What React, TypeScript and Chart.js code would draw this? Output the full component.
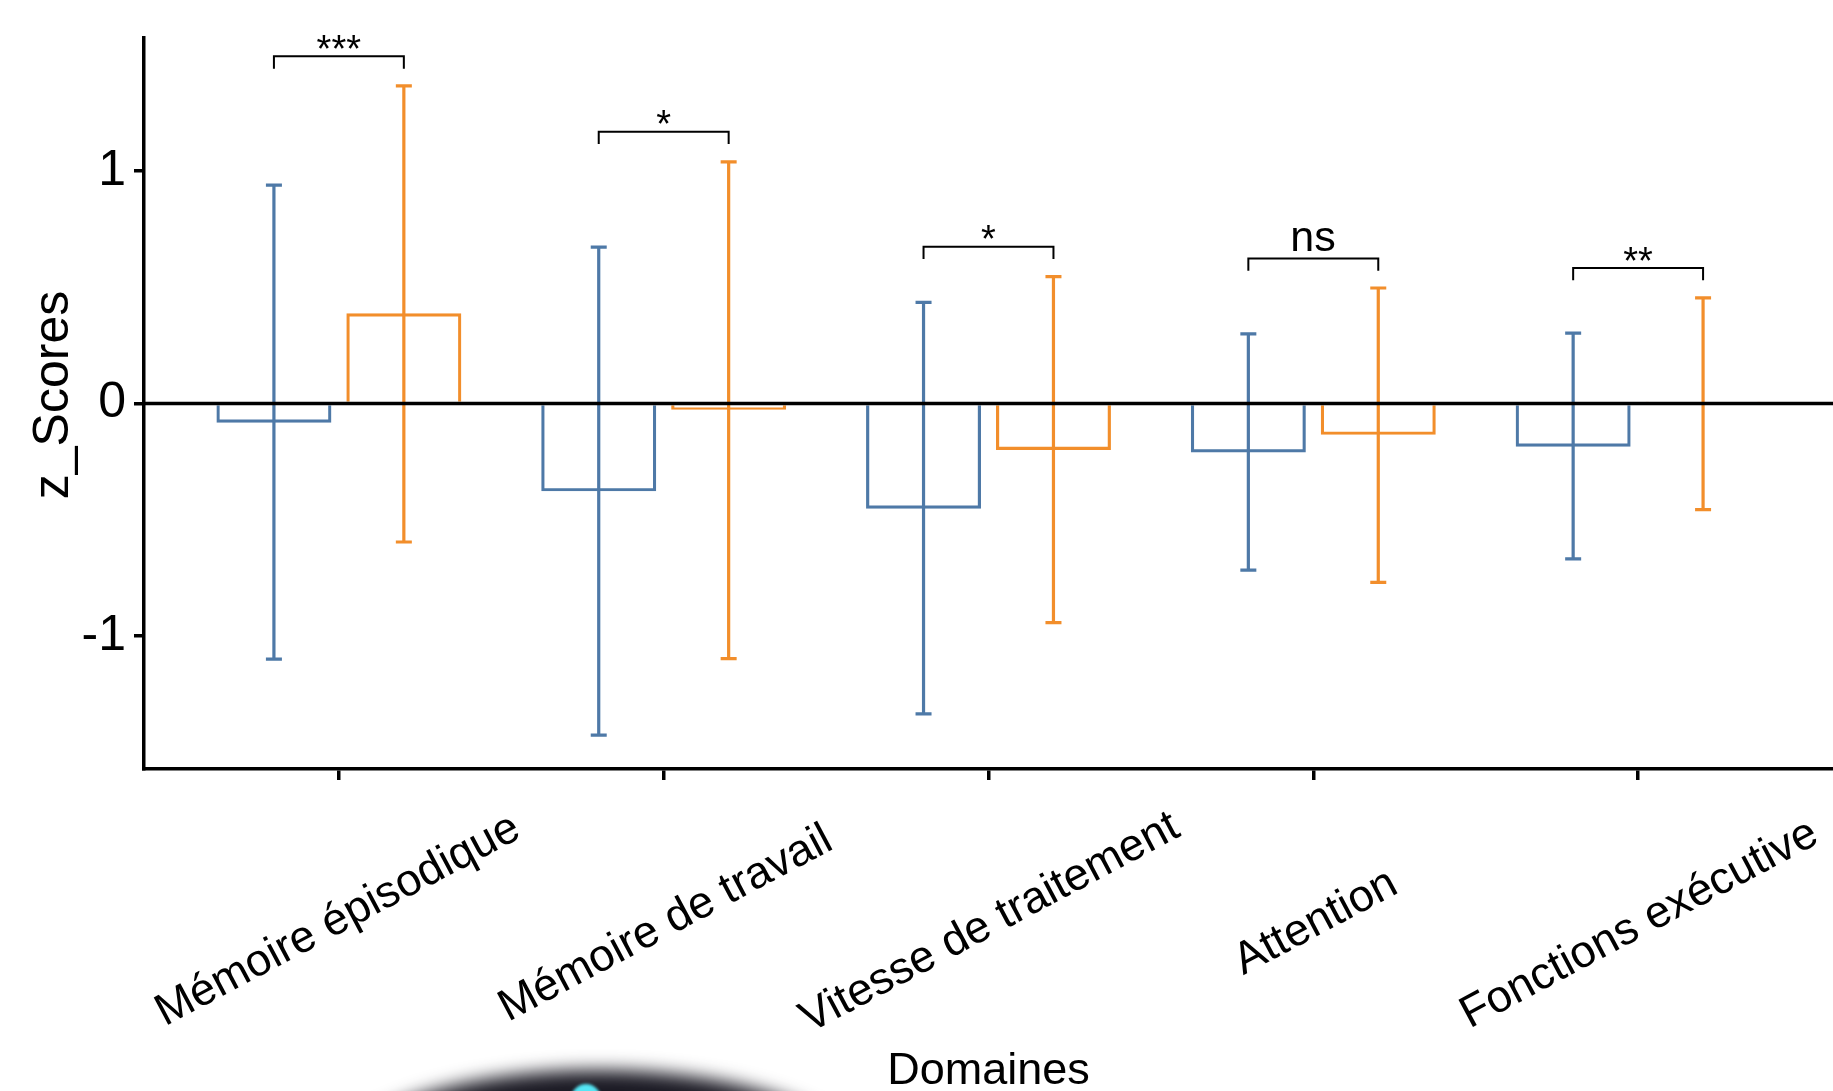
import React, { useEffect, useRef } from "react";
import { Chart, registerables } from "chart.js";

Chart.register(...registerables);

// ---- data ----
const domains = [
  "Mémoire épisodique",
  "Mémoire de travail",
  "Vitesse de traitement",
  "Attention",
  "Fonctions exécutive",
];
const group1Mean = [-0.083, -0.378, -0.453, -0.211, -0.186];
const group1Lower = [-1.1, -1.427, -1.336, -0.717, -0.669];
const group1Upper = [0.94, 0.673, 0.435, 0.3, 0.303];
const group2Mean = [0.388, -0.027, -0.2, -0.135, 0.006];
const group2Lower = [-0.596, -1.098, -0.943, -0.77, -0.457];
const group2Upper = [1.367, 1.04, 0.546, 0.497, 0.455];
const sigLabels = ["***", "*", "*", "ns", "**"];
const bracketY = [1.494, 1.17, 0.675, 0.624, 0.583];
const yTicks = [-1, 0, 1];

const BLUE = "#4E79A7";
const ORANGE = "#F28E2B";
const FONT = "'Liberation Sans', Arial, Helvetica, sans-serif";
const BRACKET_TIP = 0.053;

function drawInkCentered(ctx: CanvasRenderingContext2D, text: string, cx: number, cy: number) {
  ctx.textAlign = "left";
  ctx.textBaseline = "alphabetic";
  const m = ctx.measureText(text);
  const x = cx - (m.actualBoundingBoxRight - m.actualBoundingBoxLeft) / 2;
  const y = cy + (m.actualBoundingBoxAscent - m.actualBoundingBoxDescent) / 2;
  ctx.fillText(text, x, y);
}

export default function App() {
  const ref = useRef<HTMLCanvasElement>(null);

  useEffect(() => {
    const canvas = ref.current;
    if (!canvas) return;

    const overlay = {
      id: "overlay",
      afterDatasetsDraw(chart: any) {
        const ctx: CanvasRenderingContext2D = chart.ctx;
        const ys = chart.scales.y;
        const area = chart.chartArea;
        const metas = [chart.getDatasetMeta(0), chart.getDatasetMeta(1)];
        const lows = [group1Lower, group2Lower];
        const highs = [group1Upper, group2Upper];
        const cols = [BLUE, ORANGE];
        ctx.save();
        // error bars
        for (let d = 0; d < 2; d++) {
          ctx.strokeStyle = cols[d];
          ctx.lineWidth = 3.2;
          ctx.lineCap = "butt";
          for (let i = 0; i < domains.length; i++) {
            const bx = metas[d].data[i].x;
            const yl = ys.getPixelForValue(lows[d][i]);
            const yh = ys.getPixelForValue(highs[d][i]);
            ctx.beginPath();
            ctx.moveTo(bx, yh);
            ctx.lineTo(bx, yl);
            ctx.moveTo(bx - 8, yh);
            ctx.lineTo(bx + 8, yh);
            ctx.moveTo(bx - 8, yl);
            ctx.lineTo(bx + 8, yl);
            ctx.stroke();
          }
        }
        // zero line
        const y0 = ys.getPixelForValue(0);
        ctx.strokeStyle = "#000";
        ctx.lineWidth = 3.5;
        ctx.beginPath();
        ctx.moveTo(area.left, y0);
        ctx.lineTo(area.right, y0);
        ctx.stroke();
        // significance brackets
        ctx.lineWidth = 2;
        ctx.fillStyle = "#000";
        for (let i = 0; i < domains.length; i++) {
          const x1 = metas[0].data[i].x;
          const x2 = metas[1].data[i].x;
          const yt = ys.getPixelForValue(bracketY[i]);
          const yb = ys.getPixelForValue(bracketY[i] - BRACKET_TIP);
          ctx.beginPath();
          ctx.moveTo(x1, yb);
          ctx.lineTo(x1, yt);
          ctx.lineTo(x2, yt);
          ctx.lineTo(x2, yb);
          ctx.stroke();
          const isNs = sigLabels[i] === "ns";
          ctx.font = `${isNs ? 43 : 38}px ${FONT}`;
          drawInkCentered(ctx, sigLabels[i], (x1 + x2) / 2, yt - (isNs ? 19 : 14.5));
        }
        ctx.restore();
      },
      afterDraw(chart: any) {
        const ctx: CanvasRenderingContext2D = chart.ctx;
        const xs = chart.scales.x;
        ctx.save();
        ctx.fillStyle = "#000";
        // rotated category labels, centred on their ticks
        ctx.font = `45px ${FONT}`;
        for (let i = 0; i < domains.length; i++) {
          const px = xs.getPixelForValue(i);
          ctx.save();
          ctx.translate(px, 920);
          ctx.rotate((-28 * Math.PI) / 180);
          drawInkCentered(ctx, domains[i], 0, 0);
          ctx.restore();
        }
        // y axis title
        ctx.font = `50px ${FONT}`;
        ctx.save();
        ctx.translate(55, 394.5);
        ctx.rotate(-Math.PI / 2);
        drawInkCentered(ctx, "z_Scores", 0, 0);
        ctx.restore();
        // dark blurred overlay blob at the bottom of the picture
        ctx.filter = "blur(9px)";
        ctx.fillStyle = "#1b1a24";
        ctx.beginPath();
        ctx.ellipse(598, 1186, 285, 116, 0, 0, Math.PI * 2);
        ctx.fill();
        ctx.filter = "blur(1.5px)";
        ctx.fillStyle = "#55e6f5";
        ctx.beginPath();
        ctx.ellipse(586, 1102, 16, 18, 0, 0, Math.PI * 2);
        ctx.fill();
        ctx.restore();
      },
    };

    const axisGrid = {
      display: true,
      drawOnChartArea: false,
      drawTicks: true,
      offset: false,
      color: "#000",
      tickColor: "#000",
      lineWidth: 3.5,
      tickWidth: 3.5,
    };

    const chart = new Chart(canvas, {
      type: "bar",
      data: {
        datasets: [
          {
            label: "Groupe 1",
            data: group1Mean.map((v, i) => ({ x: i, y: v })),
            backgroundColor: "rgba(255,255,255,0)",
            borderColor: BLUE,
            borderWidth: 3.2,
            borderSkipped: "start",
            categoryPercentage: 0.8,
            barPercentage: 0.885,
          },
          {
            label: "Groupe 2",
            data: group2Mean.map((v, i) => ({ x: i, y: v })),
            backgroundColor: "rgba(255,255,255,0)",
            borderColor: ORANGE,
            borderWidth: 3.2,
            borderSkipped: "start",
            categoryPercentage: 0.8,
            barPercentage: 0.885,
          },
        ],
      } as any,
      options: {
        responsive: false,
        animation: false,
        devicePixelRatio: 1,
        events: [],
        layout: { padding: { left: 0, right: 0, top: 35, bottom: 0 } },
        plugins: { legend: { display: false }, tooltip: { enabled: false } },
        scales: {
          x: {
            type: "linear",
            offset: false,
            min: -0.6,
            max: 4.6,
            afterBuildTicks: (s: any) => {
              s.ticks = domains.map((_, i) => ({ value: i }));
            },
            afterFit: (s: any) => {
              s.height = 322;
            },
            ticks: { display: false },
            grid: { ...axisGrid, tickLength: 11 },
            border: { display: true, color: "#000", width: 3.5 },
            title: {
              display: true,
              text: "Domaines",
              color: "#000",
              font: { family: FONT, size: 45, lineHeight: 0.85 },
              padding: 0,
            },
          },
          y: {
            type: "linear",
            min: -1.573,
            max: 1.573,
            afterBuildTicks: (s: any) => {
              s.ticks = yTicks.map((v) => ({ value: v }));
            },
            afterFit: (s: any) => {
              s.width = 144;
            },
            ticks: {
              color: "#000",
              font: { family: FONT, size: 50 },
              padding: 8,
              callback: (v: any) => String(v),
            },
            grid: { ...axisGrid, tickLength: 10 },
            border: { display: true, color: "#000", width: 3.5 },
          },
        },
      } as any,
      plugins: [overlay],
    });

    return () => chart.destroy();
  }, []);

  return (
    <div
      style={{
        position: "fixed",
        left: 0,
        top: 0,
        width: 1833,
        height: 1091,
        overflow: "hidden",
        background: "#fff",
      }}
    >
      <canvas ref={ref} width={1833} height={1091} style={{ display: "block", width: 1833, height: 1091 }} />
    </div>
  );
}
